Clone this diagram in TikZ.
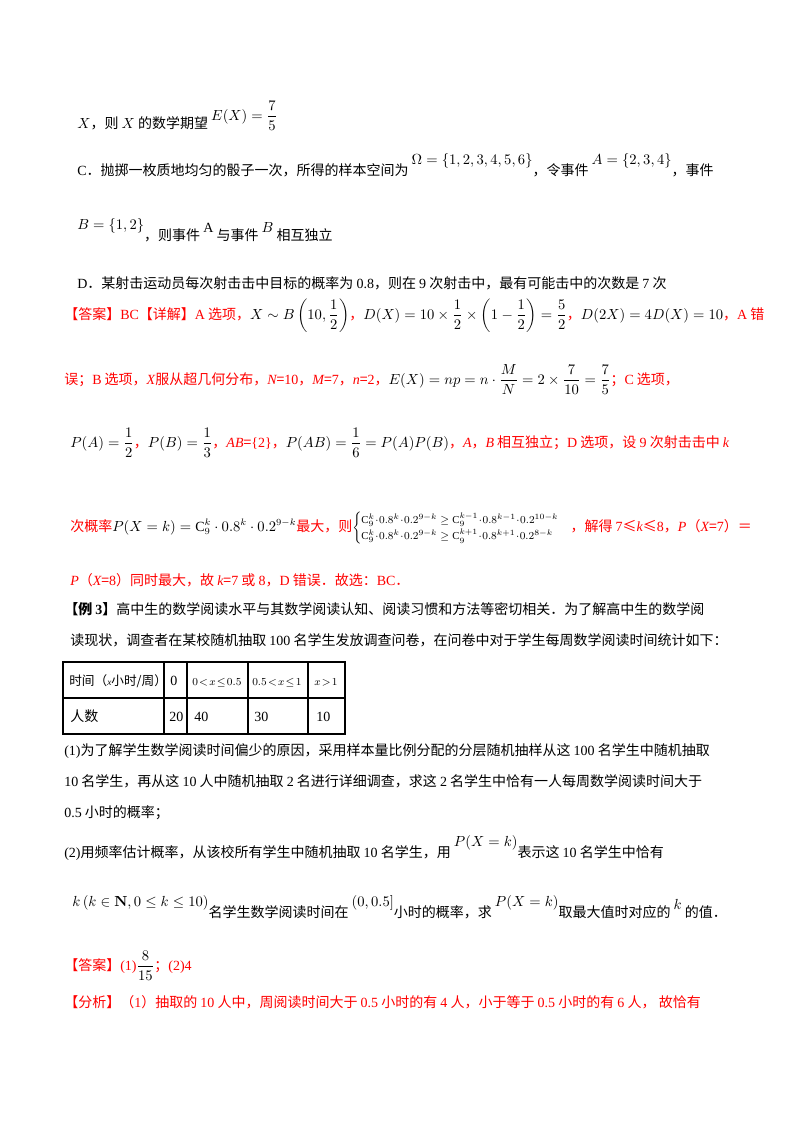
\documentclass[tikz,border=0pt]{standalone}
\usepackage{amsmath,amssymb}
\usepackage[no-math]{fontspec}
\setmainfont{Noto Sans CJK SC}
\newfontfamily\tm{Liberation Serif}
\newcommand{\Cc}{\text{\tm C}}
\begin{document}
\begin{tikzpicture}[x=0.75pt,y=-0.75pt,
  ln/.style={anchor=base west,inner sep=0pt,font=\fontsize{10.5}{12}\selectfont},
  rd/.style={ln,text=red}]
\useasboundingbox[fill=white] (0,0) rectangle (800,1132);
\node[ln] (l1) at (77,128) {$X$，则 $X$ 的数学期望 \raisebox{6pt}{$E(X)=\dfrac{7}{5}$}};
\node[ln] (l2) at (77,175) {{\tm C}．抛掷一枚质地均匀的骰子一次，所得的样本空间为 \raisebox{8pt}{$\Omega=\{1,2,3,4,5,6\}$}，令事件 \raisebox{8pt}{$A=\{2,3,4\}$}，事件};
\node[ln] (l3) at (77,240) {\raisebox{8pt}{$B=\{1,2\}$}，则事件 \raisebox{6pt}{\tm A} 与事件 \raisebox{6pt}{$B$} 相互独立};
\node[ln] (l4) at (77,288) {{\tm D}．某射击运动员每次射击击中目标的概率为 {\tm 0.8}，则在 {\tm 9} 次射击中，最有可能击中的次数是 {\tm 7} 次};
\node[rd] (l5) at (64,319) {【答案】{\tm BC}【详解】{\tm A} 选项，\textcolor{black}{$X\sim B\left(10,\dfrac12\right)$}，\textcolor{black}{$D(X)=10\times\dfrac12\times\left(1-\dfrac12\right)=\dfrac52$}，\textcolor{black}{$D(2X)=4D(X)=10$}，{\tm A} 错};
\node[rd] (l6) at (64,384) {误；{\tm B} 选项，{\tm\itshape X}服从超几何分布，{\tm\itshape N}={\tm 10}，{\tm\itshape M}={\tm 7}，{\tm\itshape n}={\tm 2}，\textcolor{black}{$E(X)=np=n\cdot\dfrac{M}{N}=2\times\dfrac{7}{10}=\dfrac{7}{5}$}；{\tm C} 选项，};
\node[rd] (l7) at (70,447) {\textcolor{black}{$P(A)=\dfrac12$}，\textcolor{black}{$P(B)=\dfrac13$}，{\tm\itshape AB}={\tm\{2\}}，\textcolor{black}{$P(AB)=\dfrac16=P(A)P(B)$}，{\tm\itshape A}，{\tm\itshape B} 相互独立；{\tm D} 选项，设 {\tm 9} 次射击击中 {\tm\itshape k}};
\node[rd] (l8) at (70,531) {次概率\textcolor{black}{$P(X=k)=\Cc_9^k\cdot0.8^k\cdot0.2^{9-k}$}最大，则\textcolor{black}{\footnotesize$\begin{cases}\Cc_9^k\!\cdot\!0.8^k\!\cdot\!0.2^{9-k}\ge\Cc_9^{k-1}\!\cdot\!0.8^{k-1}\!\cdot\!0.2^{10-k}\\[1pt] \Cc_9^k\!\cdot\!0.8^k\!\cdot\!0.2^{9-k}\ge\Cc_9^{k+1}\!\cdot\!0.8^{k+1}\!\cdot\!0.2^{8-k}\end{cases}$}，解得 {\tm 7}≤{\tm\itshape k}≤{\tm 8}，{\tm\itshape P}（{\tm\itshape X}={\tm 7}）＝};
\node[rd] (l9) at (70,585) {{\tm\itshape P}（{\tm\itshape X}={\tm 8}）同时最大，故 {\tm\itshape k}={\tm 7} 或 {\tm 8}，{\tm D} 错误．故选：{\tm BC}．};
\node[ln] (l10) at (64,614) {\textbf{【例 {\tm\bfseries 3}】}高中生的数学阅读水平与其数学阅读认知、阅读习惯和方法等密切相关．为了解高中生的数学阅};
\node[ln] (l11) at (70,645) {读现状，调查者在某校随机抽取 {\tm 100} 名学生发放调查问卷，在问卷中对于学生每周数学阅读时间统计如下：};
% table
\draw[line width=1pt] (63,662) rectangle (345,734);
\draw[line width=0.8pt] (63,698) -- (345,698);
\foreach \xx in {164,187,248,308} \draw[line width=0.8pt] (\xx,662) -- (\xx,734);
\node[ln,font=\fontsize{9.5}{11}\selectfont] (t1) at (69,685) {时间（{\tm\itshape\scriptsize x}小时/周）};
\node[ln] (t2) at (170,685) {\tm 0};
\node[ln,font=\footnotesize] (t3) at (192,685) {$0\!<\!x\!\le\!0.5$};
\node[ln,font=\footnotesize] (t4) at (252,685) {$0.5\!<\!x\!\le\!1$};
\node[ln,font=\footnotesize] (t5) at (314,685) {$x\!>\!1$};
\node[ln] (t6) at (70,721) {人数};
\node[ln] (t7) at (169,721) {\tm 20};
\node[ln] (t8) at (194,721) {\tm 40};
\node[ln] (t9) at (254,721) {\tm 30};
\node[ln] (t10) at (316,721) {\tm 10};
\node[ln] (l12) at (64,755) {{\tm (1)}为了解学生数学阅读时间偏少的原因，采用样本量比例分配的分层随机抽样从这 {\tm 100} 名学生中随机抽取};
\node[ln] (l13) at (64,786) {{\tm 10} 名学生，再从这 {\tm 10} 人中随机抽取 {\tm 2} 名进行详细调查，求这 {\tm 2} 名学生中恰有一人每周数学阅读时间大于};
\node[ln] (l14) at (64,817) {{\tm 0.5} 小时的概率；};
\node[ln] (l15) at (64,857) {{\tm (2)}用频率估计概率，从该校所有学生中随机抽取 {\tm 10} 名学生，用 \raisebox{8pt}{$P(X=k)$}表示这 {\tm 10} 名学生中恰有};
\node[ln] (l16) at (72,917) {\raisebox{8pt}{$k\left(k\in\mathbf{N},0\le k\le10\right)$}名学生数学阅读时间在 \raisebox{8pt}{$(0,0.5]$}小时的概率，求 \raisebox{8pt}{$P(X=k)$}取最大值时对应的 \raisebox{6pt}{$k$} 的值．};
\node[rd] (l17) at (64,970) {【答案】{\tm (1)}\textcolor{black}{$\dfrac{8}{15}$}；{\tm (2)4}};
\node[rd] (l18) at (64,1007) {【分析】（{\tm 1}）抽取的 {\tm 10} 人中，周阅读时间大于 {\tm 0.5} 小时的有 {\tm 4} 人，小于等于 {\tm 0.5} 小时的有 {\tm 6} 人， 故恰有};
\end{tikzpicture}
\end{document}
